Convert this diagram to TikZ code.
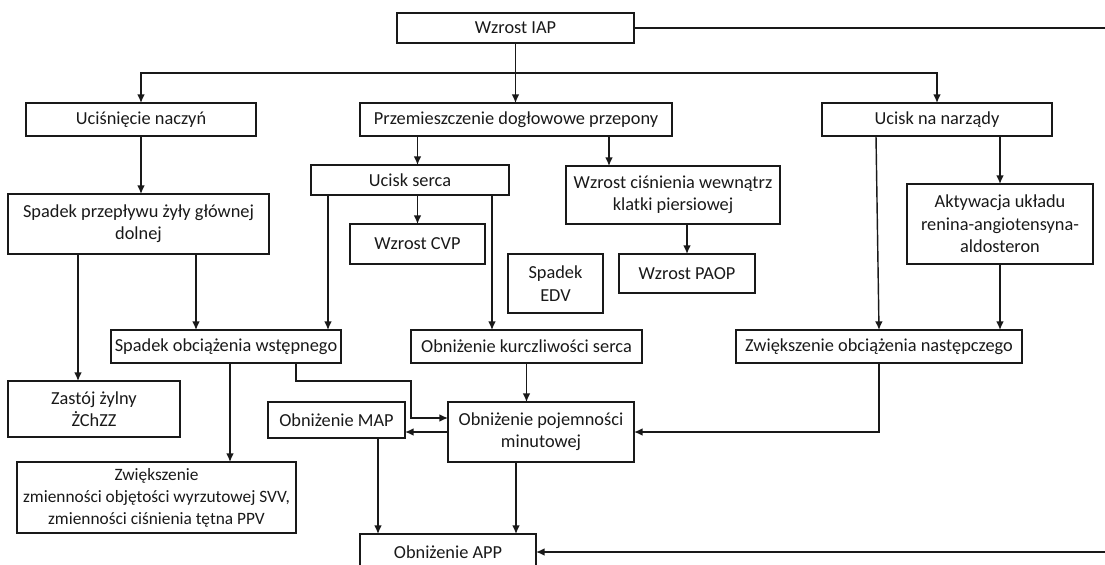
\documentclass[tikz,border=0pt]{standalone}
\usepackage{fontspec}
\setmainfont{Carlito}
\usetikzlibrary{arrows.meta}

\begin{document}
\begin{tikzpicture}[x=0.6pt, y=-0.6pt, >={Latex[length=5.2pt,width=4.6pt]},
    blok/.style={draw=black!90, text=black!90, line width=0.85pt, inner sep=0pt, outer sep=0pt, align=center, font=\fontsize{11}{13.4}\selectfont},
    lacz/.style={->, draw=black!90, line width=0.85pt}]
\useasboundingbox (0,0) rectangle (1105,564);
\coordinate (prawa) at (1110,0);

\node[blok, minimum width=142.2pt, minimum height=18pt] (iap) at (515.5,28) {Wzrost IAP};
\node[blok, minimum width=138pt, minimum height=19.8pt] (naczyn) at (141,119.5) {Uciśnięcie naczyń};
\node[blok, minimum width=187.2pt, minimum height=19.8pt] (przepona) at (516,119.5) {Przemieszczenie dogłowowe przepony};
\node[blok, minimum width=138pt, minimum height=19.8pt] (narzady) at (937,119.5) {Ucisk na narządy};
\node[blok, minimum width=118.8pt, minimum height=18pt] (serce) at (410,180) {Ucisk serca};
\node[blok, minimum width=128.4pt, minimum height=34.8pt] (klatka) at (673,195) {Wzrost ciśnienia wewnątrz\\klatki piersiowej};
\node[blok, minimum width=156.6pt, minimum height=36pt] (splyw) at (138.5,224) {Spadek przepływu żyły głównej\\dolnej};
\node[blok, minimum width=81pt, minimum height=24pt] (cvp) at (417.5,244) {Wzrost CVP};
\node[blok, minimum width=111.6pt, minimum height=48pt] (raa) at (1000,224) {Aktywacja układu\\renina-angiotensyna-\\aldosteron};
\node[blok, minimum width=57pt, minimum height=35.4pt] (edv) at (555.5,283.5) {Spadek\\EDV};
\node[blok, minimum width=81.6pt, minimum height=23.4pt] (paop) at (687,273.5) {Wzrost PAOP};
\node[blok, minimum width=138pt, minimum height=19.8pt] (wstepne) at (226,346.5) {Spadek obciążenia wstępnego};
\node[blok, minimum width=138.6pt, minimum height=19.8pt] (kurcz) at (526.5,346.5) {Obniżenie kurczliwości serca};
\node[blok, minimum width=171.6pt, minimum height=19.8pt] (nastepcze) at (879,346.5) {Zwiększenie obciążenia następczego};
\node[blok, minimum width=103.2pt, minimum height=33.6pt] (zastoj) at (94,409) {Zastój żylny\\ŻChZZ};
\node[blok, minimum width=82.2pt, minimum height=21.6pt] (map) at (336.5,420) {Obniżenie MAP};
\node[blok, minimum width=111.6pt, minimum height=36pt] (pojemnosc) at (541,432) {Obniżenie pojemności\\minutowej};
\node[blok, minimum width=167.4pt, minimum height=42.6pt, font=\fontsize{10.4}{13.2}\selectfont] (zmiennosc) at (156.5,497.5) {Zwiększenie\\zmienności objętości wyrzutowej SVV,\\zmienności ciśnienia tętna PPV};
\node[blok, minimum width=105.6pt, minimum height=21.6pt] (app) at (448,552) {Obniżenie APP};

\coordinate (rozgal) at ([yshift=-18pt]iap.south);
\coordinate (pk) at ([xshift=55.8pt]przepona.south);
\coordinate (sw) at ([xshift=-49.2pt]serce.south);
\coordinate (sk) at ([xshift=49.2pt]serce.south);
\coordinate (nn) at ([xshift=-36.6pt]narzady.south);
\coordinate (pw) at ([xshift=34.5pt]splyw.south);
\coordinate (pz) at ([xshift=-36.3pt]splyw.south);
\coordinate (wp) at ([xshift=42pt]wstepne.south);
\coordinate (ma) at ([xshift=24.9pt]map.south);
\coordinate (pa) at ([xshift=-15pt]pojemnosc.south);

\draw[lacz] (iap.south) -- (iap.south |- przepona.north);
\draw[lacz] (rozgal) -| (naczyn.north);
\draw[lacz] (rozgal) -| (narzady.north);
\draw[draw=black!90, line width=0.85pt] (iap.east) -- (iap.east -| prawa);
\draw[lacz] (naczyn.south) -- (naczyn.south |- splyw.north);
\draw[lacz] (przepona.south -| cvp.north) -- (serce.north -| cvp.north);
\draw[lacz] (pk) -- (pk |- klatka.north);
\draw[lacz] (nn) -- (nastepcze.north);
\draw[lacz] (narzady.south -| raa.north) -- (raa.north);
\draw[lacz] (serce.south -| cvp.north) -- (cvp.north);
\draw[lacz] (sw) -- (sw |- wstepne.north);
\draw[lacz] (sk) -- (sk |- kurcz.north);
\draw[lacz] (klatka.south -| paop.north) -- (paop.north);
\draw[lacz] (raa.south) -- (raa.south |- nastepcze.north);
\draw[lacz] (pw) -- (pw |- wstepne.north);
\draw[lacz] (pz) -- (pz |- zastoj.north);
\draw[lacz] ([xshift=2.4pt]wstepne.south) -- ([xshift=2.4pt]wstepne.south |- zmiennosc.north);
\draw[lacz] (wp) -- ++(0,18) -- ++(115,0) |- ([yshift=8.4pt]pojemnosc.west);
\draw[lacz] (kurcz.south) -- (kurcz.south |- pojemnosc.north);
\draw[lacz] (pojemnosc.west) -- (pojemnosc.west -| map.east);
\draw[lacz] (nastepcze.south) |- (pojemnosc.east);
\draw[lacz] (ma) -- (ma |- app.north);
\draw[lacz] (pa) -- (pa |- app.north);
\draw[lacz] (app.east -| prawa) -- (app.east);
\end{tikzpicture}
\end{document}
